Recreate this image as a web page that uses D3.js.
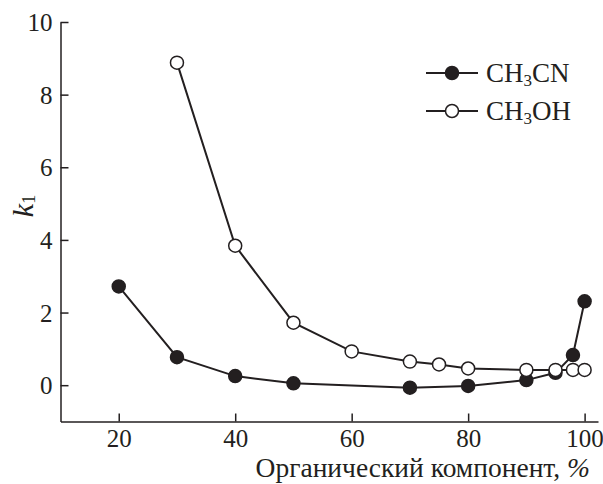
<!DOCTYPE html>
<html lang="ru">
<head>
    <meta charset="UTF-8">
    <title>k1 vs organic component</title>
    <script src="https://d3js.org/d3.v7.min.js"></script>
    <style>
        html, body {
            margin: 0;
            padding: 0;
            background: #fff;
        }
        svg text {
            font-family: "Liberation Serif", "Times New Roman", serif;
            fill: #231f20;
        }
    </style>
</head>
<body>
    <svg id="chart" width="603" height="484"></svg>

    <script>
        // data
        const xAcn = [20, 30, 40, 50, 70, 80, 90, 95, 98, 100];
        const kAcn = [2.72, 0.77, 0.25, 0.05, -0.07, -0.02, 0.14, 0.34, 0.83, 2.31];
        const xMeoh = [30, 40, 50, 60, 70, 75, 80, 90, 95, 98, 100];
        const kMeoh = [8.88, 3.84, 1.72, 0.93, 0.65, 0.57, 0.46, 0.42, 0.42, 0.42, 0.42];
        const xTicks = [20, 40, 60, 80, 100];
        const yTicks = [0, 2, 4, 6, 8, 10];

        const ink = "#231f20";
        const serif = '"Liberation Serif", "Times New Roman", serif';
        const svg = d3.select("#chart");

        const x = d3.scaleLinear().domain([10, 102.3]).range([60.5, 598]);
        const y = d3.scaleLinear().domain([-1, 10]).range([421.5, 22]);

        // axes, ticks pointing inward
        const xAxis = svg.append("g")
            .attr("transform", `translate(0,${y(-1)})`)
            .call(d3.axisBottom(x).tickValues(xTicks).tickSizeInner(-8).tickSizeOuter(0).tickPadding(8));
        const yAxis = svg.append("g")
            .attr("transform", `translate(${x(10)},0)`)
            .call(d3.axisLeft(y).tickValues(yTicks).tickSizeInner(-8).tickSizeOuter(0).tickPadding(8));

        [xAxis, yAxis].forEach(g => {
            g.attr("font-family", serif).attr("font-size", 25);
            g.select(".domain").attr("stroke", ink).attr("stroke-width", 1.5);
            g.selectAll(".tick line").attr("stroke", ink).attr("stroke-width", 1.5);
            g.selectAll(".tick text")
                .attr("font-family", serif)
                .attr("font-size", 25)
                .attr("fill", ink);
        });
        yAxis.selectAll(".tick text").attr("dy", "0.34em");
        xAxis.selectAll(".tick text").attr("dy", "0.68em");

        // axis titles
        svg.append("text")
            .attr("x", 590).attr("y", 477)
            .attr("text-anchor", "end")
            .attr("font-family", serif)
            .attr("font-size", 27.5)
            .html('Органический компонент, <tspan font-style="italic">%</tspan>');

        svg.append("text")
            .attr("transform", "translate(33,206) rotate(-90)")
            .attr("text-anchor", "middle")
            .attr("font-family", serif)
            .attr("font-size", 30)
            .html('<tspan font-style="italic">k</tspan><tspan font-size="18" dy="2">1</tspan>');

        const line = d3.line().x(d => x(d[0])).y(d => y(d[1]));

        const series = [
            { name: "CH3CN", xs: xAcn, ks: kAcn, fill: ink },
            { name: "CH3OH", xs: xMeoh, ks: kMeoh, fill: "#fff" }
        ];

        series.forEach(s => {
            const pts = s.xs.map((v, i) => [v, s.ks[i]]);
            svg.append("path")
                .datum(pts)
                .attr("d", line)
                .attr("fill", "none")
                .attr("stroke", ink)
                .attr("stroke-width", 2);
            svg.append("g").selectAll("circle")
                .data(pts)
                .join("circle")
                .attr("cx", d => x(d[0]))
                .attr("cy", d => y(d[1]))
                .attr("r", 6.5)
                .attr("fill", s.fill)
                .attr("stroke", ink)
                .attr("stroke-width", 1.5);
        });

        // legend
        const legend = svg.append("g");
        series.forEach((s, i) => {
            const ly = 73 + i * 38;
            legend.append("line")
                .attr("x1", 426).attr("x2", 478)
                .attr("y1", ly).attr("y2", ly)
                .attr("stroke", ink).attr("stroke-width", 2);
            legend.append("circle")
                .attr("cx", 452).attr("cy", ly).attr("r", 6.5)
                .attr("fill", s.fill).attr("stroke", ink).attr("stroke-width", 1.5);
            const t = legend.append("text")
                .attr("x", 486).attr("y", ly + 9)
                .attr("font-family", serif)
                .attr("font-size", 27);
            t.append("tspan").text("CH");
            t.append("tspan").attr("font-size", 17).attr("dy", 4).text("3");
            t.append("tspan").attr("dy", -4).text(s.name.slice(3));
        });
    </script>
</body>
</html>
